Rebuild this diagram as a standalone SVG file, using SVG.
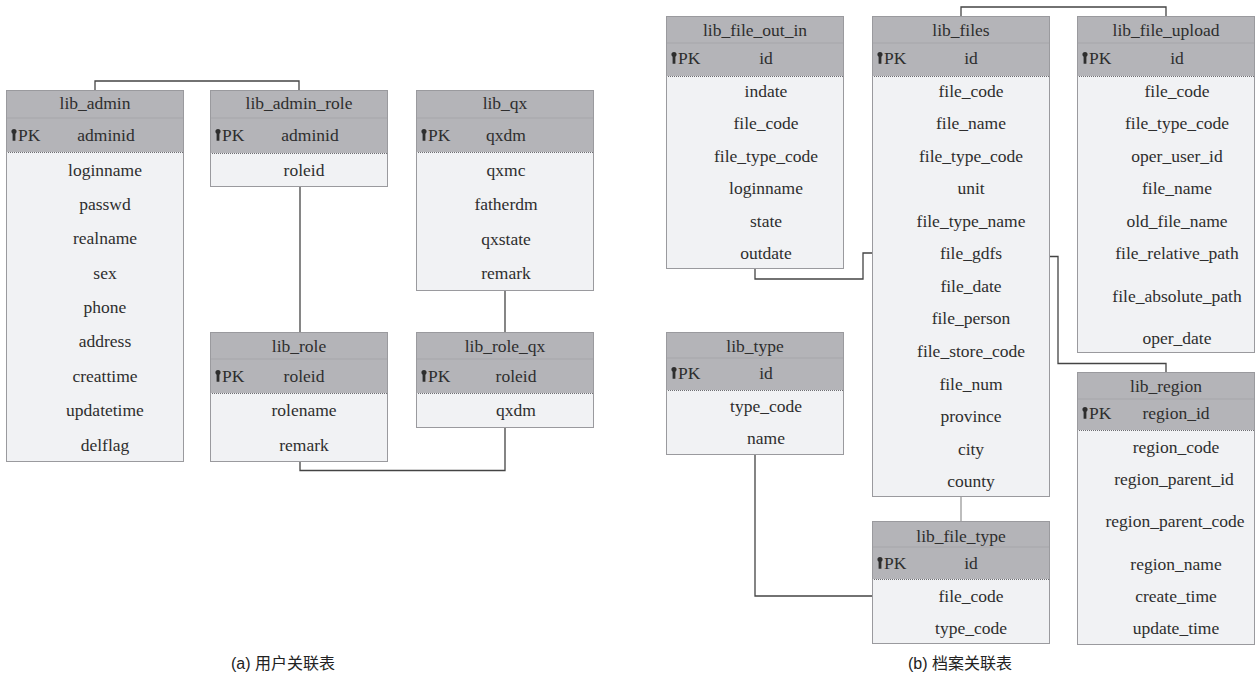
<svg xmlns="http://www.w3.org/2000/svg" width="1258" height="677" viewBox="0 0 1258 677">
<defs>
<style>
.hd{fill:#b4b4b8;stroke:none}
.bd{fill:#f1f2f4;stroke:none}
.fr{fill:none;stroke:#9a9a9e;stroke-width:1}
.ts{stroke:#a6a6aa;stroke-width:1}
.ds{stroke:#6e6e72;stroke-width:1;stroke-dasharray:1 1}
.t{font-family:"Liberation Serif","Times New Roman",serif;font-size:17.5px;fill:#2e2e2e;text-anchor:middle}
.pk{font-family:"Liberation Serif","Times New Roman",serif;font-size:17.5px;fill:#2e2e2e}
.key{fill:#2e2e2e}
.cn{fill:none;stroke:#444;stroke-width:1.3}
.cl{fill:none;stroke:#9a9a9a;stroke-width:1.3}
.cap{font-family:"Liberation Sans","Noto Sans CJK SC",sans-serif;font-size:16px;fill:#222;text-anchor:middle}
</style>
<path id="k" d="M-2.6,-3.5 a2.6,2.6 0 1 1 5.2,0 a2.6,2.6 0 0 1 -1.2,2.2 v7 h-2.8 v-7 a2.6,2.6 0 0 1 -1.2,-2.2 z"/>
</defs>

<g id="connectors">
<path class="cn" d="M95,90 V81 H299 V90"/>
<path class="cn" d="M300,187 V332"/>
<path class="cn" d="M505,291 V332"/>
<path class="cn" d="M300,462 V470.5 H505 V428"/>
<path class="cn" d="M961,16 V7 H1166 V16"/>
<path class="cn" d="M755,269 V279 H863 V253 H872"/>
<path class="cn" d="M1050,256.5 H1058 V363.5 H1166 V372"/>
<path class="cl" d="M961,497 V521"/>
<path class="cn" d="M755,455 V596 H872"/>
</g>

<g id="lib_admin">
<rect class="hd" x="6" y="90" width="178" height="62"/>
<rect class="bd" x="6" y="152" width="178" height="310"/>
<line class="ts" x1="6" y1="118" x2="184" y2="118"/>
<line class="ds" x1="6" y1="152.5" x2="184" y2="152.5"/>
<rect class="fr" x="6.5" y="90.5" width="177" height="371"/>
<text class="t" x="95" y="109">lib_admin</text>
<use href="#k" class="key" x="14" y="135"/>
<text class="pk" x="18" y="141">PK</text>
<text class="t" x="106" y="141">adminid</text>
<text class="t" x="105" y="176">loginname</text>
<text class="t" x="105" y="210">passwd</text>
<text class="t" x="105" y="244">realname</text>
<text class="t" x="105" y="279">sex</text>
<text class="t" x="105" y="313">phone</text>
<text class="t" x="105" y="347">address</text>
<text class="t" x="105" y="382">creattime</text>
<text class="t" x="105" y="416">updatetime</text>
<text class="t" x="105" y="451">delflag</text>
</g>

<g id="lib_admin_role">
<rect class="hd" x="210" y="90" width="178" height="63"/>
<rect class="bd" x="210" y="153" width="178" height="34"/>
<line class="ts" x1="210" y1="118" x2="388" y2="118"/>
<line class="ds" x1="210" y1="153.5" x2="388" y2="153.5"/>
<rect class="fr" x="210.5" y="90.5" width="177" height="96"/>
<text class="t" x="299" y="109">lib_admin_role</text>
<use href="#k" class="key" x="218" y="135"/>
<text class="pk" x="222" y="141">PK</text>
<text class="t" x="310" y="141">adminid</text>
<text class="t" x="304" y="176">roleid</text>
</g>

<g id="lib_qx">
<rect class="hd" x="416" y="90" width="178" height="62"/>
<rect class="bd" x="416" y="152" width="178" height="139"/>
<line class="ts" x1="416" y1="118" x2="594" y2="118"/>
<line class="ds" x1="416" y1="152.5" x2="594" y2="152.5"/>
<rect class="fr" x="416.5" y="90.5" width="177" height="200"/>
<text class="t" x="505" y="109">lib_qx</text>
<use href="#k" class="key" x="424" y="135"/>
<text class="pk" x="428" y="141">PK</text>
<text class="t" x="506" y="141">qxdm</text>
<text class="t" x="506" y="176">qxmc</text>
<text class="t" x="506" y="210">fatherdm</text>
<text class="t" x="506" y="245">qxstate</text>
<text class="t" x="506" y="279">remark</text>
</g>

<g id="lib_role">
<rect class="hd" x="210" y="332" width="178" height="61"/>
<rect class="bd" x="210" y="393" width="178" height="69"/>
<line class="ts" x1="210" y1="359" x2="388" y2="359"/>
<line class="ds" x1="210" y1="393.5" x2="388" y2="393.5"/>
<rect class="fr" x="210.5" y="332.5" width="177" height="129"/>
<text class="t" x="299" y="352">lib_role</text>
<use href="#k" class="key" x="218" y="376"/>
<text class="pk" x="222" y="382">PK</text>
<text class="t" x="304" y="382">roleid</text>
<text class="t" x="304" y="416">rolename</text>
<text class="t" x="304" y="451">remark</text>
</g>

<g id="lib_role_qx">
<rect class="hd" x="416" y="332" width="178" height="61"/>
<rect class="bd" x="416" y="393" width="178" height="35"/>
<line class="ts" x1="416" y1="359" x2="594" y2="359"/>
<line class="ds" x1="416" y1="393.5" x2="594" y2="393.5"/>
<rect class="fr" x="416.5" y="332.5" width="177" height="95"/>
<text class="t" x="505" y="352">lib_role_qx</text>
<use href="#k" class="key" x="424" y="376"/>
<text class="pk" x="428" y="382">PK</text>
<text class="t" x="516" y="382">roleid</text>
<text class="t" x="516" y="416">qxdm</text>
</g>

<g id="lib_file_out_in">
<rect class="hd" x="666" y="16" width="178" height="60"/>
<rect class="bd" x="666" y="76" width="178" height="193"/>
<line class="ts" x1="666" y1="43" x2="844" y2="43"/>
<line class="ds" x1="666" y1="76.5" x2="844" y2="76.5"/>
<rect class="fr" x="666.5" y="16.5" width="177" height="252"/>
<text class="t" x="755" y="36">lib_file_out_in</text>
<use href="#k" class="key" x="674" y="58"/>
<text class="pk" x="678" y="64">PK</text>
<text class="t" x="766" y="64">id</text>
<text class="t" x="766" y="97">indate</text>
<text class="t" x="766" y="129">file_code</text>
<text class="t" x="766" y="162">file_type_code</text>
<text class="t" x="766" y="194">loginname</text>
<text class="t" x="766" y="227">state</text>
<text class="t" x="766" y="259">outdate</text>
</g>

<g id="lib_files">
<rect class="hd" x="872" y="16" width="178" height="60"/>
<rect class="bd" x="872" y="76" width="178" height="421"/>
<line class="ts" x1="872" y1="43" x2="1050" y2="43"/>
<line class="ds" x1="872" y1="76.5" x2="1050" y2="76.5"/>
<rect class="fr" x="872.5" y="16.5" width="177" height="480"/>
<text class="t" x="961" y="36">lib_files</text>
<use href="#k" class="key" x="880" y="58"/>
<text class="pk" x="884" y="64">PK</text>
<text class="t" x="971" y="64">id</text>
<text class="t" x="971" y="97">file_code</text>
<text class="t" x="971" y="129">file_name</text>
<text class="t" x="971" y="162">file_type_code</text>
<text class="t" x="971" y="194">unit</text>
<text class="t" x="971" y="227">file_type_name</text>
<text class="t" x="971" y="259">file_gdfs</text>
<text class="t" x="971" y="292">file_date</text>
<text class="t" x="971" y="324">file_person</text>
<text class="t" x="971" y="357">file_store_code</text>
<text class="t" x="971" y="390">file_num</text>
<text class="t" x="971" y="422">province</text>
<text class="t" x="971" y="455">city</text>
<text class="t" x="971" y="487">county</text>
</g>

<g id="lib_file_upload">
<rect class="hd" x="1077" y="16" width="178" height="60"/>
<rect class="bd" x="1077" y="76" width="178" height="277"/>
<line class="ts" x1="1077" y1="43" x2="1255" y2="43"/>
<line class="ds" x1="1077" y1="76.5" x2="1255" y2="76.5"/>
<rect class="fr" x="1077.5" y="16.5" width="177" height="336"/>
<text class="t" x="1166" y="36">lib_file_upload</text>
<use href="#k" class="key" x="1085" y="58"/>
<text class="pk" x="1089" y="64">PK</text>
<text class="t" x="1177" y="64">id</text>
<text class="t" x="1177" y="97">file_code</text>
<text class="t" x="1177" y="129">file_type_code</text>
<text class="t" x="1177" y="162">oper_user_id</text>
<text class="t" x="1177" y="194">file_name</text>
<text class="t" x="1177" y="227">old_file_name</text>
<text class="t" x="1177" y="259">file_relative_path</text>
<text class="t" x="1177" y="302">file_absolute_path</text>
<text class="t" x="1177" y="344">oper_date</text>
</g>

<g id="lib_type">
<rect class="hd" x="666" y="332" width="178" height="58"/>
<rect class="bd" x="666" y="390" width="178" height="65"/>
<line class="ts" x1="666" y1="358" x2="844" y2="358"/>
<line class="ds" x1="666" y1="390.5" x2="844" y2="390.5"/>
<rect class="fr" x="666.5" y="332.5" width="177" height="122"/>
<text class="t" x="755" y="352">lib_type</text>
<use href="#k" class="key" x="674" y="373"/>
<text class="pk" x="678" y="379">PK</text>
<text class="t" x="766" y="379">id</text>
<text class="t" x="766" y="412">type_code</text>
<text class="t" x="766" y="444">name</text>
</g>

<g id="lib_region">
<rect class="hd" x="1077" y="372" width="178" height="58"/>
<rect class="bd" x="1077" y="430" width="178" height="215"/>
<line class="ts" x1="1077" y1="399" x2="1255" y2="399"/>
<line class="ds" x1="1077" y1="430.5" x2="1255" y2="430.5"/>
<rect class="fr" x="1077.5" y="372.5" width="177" height="272"/>
<text class="t" x="1166" y="392">lib_region</text>
<use href="#k" class="key" x="1085" y="413"/>
<text class="pk" x="1089" y="419">PK</text>
<text class="t" x="1176" y="419">region_id</text>
<text class="t" x="1176" y="453">region_code</text>
<text class="t" x="1174" y="485">region_parent_id</text>
<text class="t" x="1175" y="527">region_parent_code</text>
<text class="t" x="1176" y="570">region_name</text>
<text class="t" x="1176" y="602">create_time</text>
<text class="t" x="1176" y="634">update_time</text>
</g>

<g id="lib_file_type">
<rect class="hd" x="872" y="521" width="178" height="58"/>
<rect class="bd" x="872" y="579" width="178" height="65"/>
<line class="ts" x1="872" y1="547" x2="1050" y2="547"/>
<line class="ds" x1="872" y1="579.5" x2="1050" y2="579.5"/>
<rect class="fr" x="872.5" y="521.5" width="177" height="122"/>
<text class="t" x="961" y="542">lib_file_type</text>
<use href="#k" class="key" x="880" y="563"/>
<text class="pk" x="884" y="569">PK</text>
<text class="t" x="971" y="569">id</text>
<text class="t" x="971" y="602">file_code</text>
<text class="t" x="971" y="634">type_code</text>
</g>

<text class="cap" x="283" y="669">(a) 用户关联表</text>
<text class="cap" x="960" y="669">(b) 档案关联表</text>
</svg>
